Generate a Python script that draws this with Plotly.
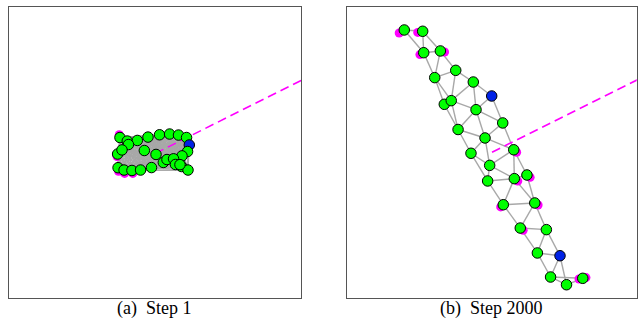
import numpy as np
import plotly.graph_objects as go

# ---------------- data (world units, panel spans 0..20) ----------------
# Step 1 node positions
s1_x = [7.60, 8.10, 8.79, 9.52, 10.31, 11.00, 11.61, 12.16, 12.35,
        12.23, 11.85, 8.18, 7.44, 9.27, 10.07, 10.57, 10.82, 11.27,
        11.40, 11.82, 12.26, 7.47, 7.88, 8.42, 9.01, 9.76, 7.74, 11.71]
s1_y = [11.01, 10.77, 10.81, 11.04, 11.20, 11.25, 11.18, 11.01, 10.50,
        10.05, 9.75, 10.53, 9.88, 10.12, 9.85, 9.30, 9.50, 9.55,
        9.16, 9.02, 8.78, 8.94, 8.78, 8.75, 8.78, 8.95, 10.16, 9.15]
s1_kind = ["g"] * 8 + ["b"] + ["g"] * 19

# Step 2000 node positions
s2_x = [3.97, 5.24, 5.31, 6.46, 7.52, 6.07, 8.73, 10.00, 6.73, 7.21,
        8.92, 10.76, 7.68, 9.54, 8.57, 11.52, 9.86, 9.72, 11.56, 12.43,
        10.80, 12.97, 11.97, 13.77, 13.15, 14.71, 14.06, 15.16, 16.28]
s2_y = [18.39, 18.30, 16.83, 16.95, 15.62, 15.12, 14.82, 13.86, 13.29, 13.54,
        12.92, 12.01, 11.56, 10.98, 9.93, 10.17, 9.10, 8.03, 8.19, 8.44,
        6.40, 6.52, 4.80, 4.69, 3.09, 2.90, 1.44, 0.91, 1.35]
s2_kind = ["g"] * 7 + ["b"] + ["g"] * 17 + ["b"] + ["g"] * 3

# Step 2000 communication edges (node index pairs)
s2_edges = [(0, 1), (0, 2), (1, 2), (1, 3), (2, 3), (2, 5), (3, 5), (3, 4),
            (5, 4), (4, 6), (4, 9), (5, 9), (5, 8), (6, 9), (6, 10), (6, 7),
            (7, 10), (7, 11), (9, 10), (8, 9), (8, 12), (9, 12), (10, 12),
            (10, 13), (10, 11), (11, 13), (12, 13), (12, 14), (13, 14),
            (13, 15), (11, 15), (13, 16), (14, 16), (15, 16), (15, 18),
            (15, 19), (16, 18), (16, 17), (14, 17), (17, 18), (17, 20),
            (18, 20), (18, 21), (19, 21), (18, 19), (20, 21), (20, 22),
            (21, 22), (21, 23), (22, 23), (22, 24), (23, 24), (23, 25),
            (24, 25), (24, 26), (25, 26), (25, 27), (26, 27), (27, 28),
            (26, 28)]

# Step 1 communication range (world units)
s1_range = 4.2

# earlier positions (trail marks) : x, y
s1_trail_x = [7.55, 7.40, 7.50, 7.92, 8.48, 8.12]
s1_trail_y = [11.20, 9.70, 8.70, 8.55, 8.55, 10.60]
s2_trail_x = [3.62, 4.90, 5.05, 6.75, 11.72, 11.80, 12.65, 10.62, 13.20, 12.17, 16.50, 16.02]
s2_trail_y = [18.18, 18.22, 16.70, 16.88, 10.00, 8.02, 8.28, 6.25, 6.38, 4.65, 1.40, 1.30]

# goal point (outside the view)
goal_x = [24.37, 24.37]
goal_y = [17.11, 17.11]

captions = ["(a)\u00a0 Step 1", "(b)\u00a0 Step 2000"]

# ---------------- figure ----------------
W, H = 641, 322
fig = go.Figure()

GREEN = "#00ff00"
BLUE = "#0022e6"
EDGE = "#a8a8a8"
MAG = "#ff00ff"


def add_panel(xs, ys, kinds, edges, tr_x, tr_y, gx, gy, xa, ya, ew):
    xs = np.asarray(xs)
    ys = np.asarray(ys)
    ex, ey = [], []
    for i, j in edges:
        ex += [xs[i], xs[j], None]
        ey += [ys[i], ys[j], None]
    fig.add_trace(go.Scatter(x=ex, y=ey, mode="lines",
                             line=dict(color=EDGE, width=ew),
                             hoverinfo="skip", showlegend=False,
                             xaxis=xa, yaxis=ya))
    fig.add_trace(go.Scatter(x=tr_x, y=tr_y, mode="markers",
                             marker=dict(size=9, color=MAG, line=dict(width=0)),
                             hoverinfo="skip", showlegend=False,
                             xaxis=xa, yaxis=ya))
    cx, cy = xs.mean(), ys.mean()
    fig.add_trace(go.Scatter(x=[cx, gx], y=[cy, gy], mode="lines",
                             line=dict(color=MAG, width=1.6, dash="9px,5px"),
                             hoverinfo="skip", showlegend=False,
                             xaxis=xa, yaxis=ya))
    cols = [GREEN if k == "g" else BLUE for k in kinds]
    fig.add_trace(go.Scatter(x=xs, y=ys, mode="markers",
                             marker=dict(size=10.5, color=cols,
                                         line=dict(color="black", width=1)),
                             hoverinfo="skip", showlegend=False,
                             xaxis=xa, yaxis=ya))


# step-1 edges: all node pairs within the communication range
s1_edges = []
for i in range(len(s1_x)):
    for j in range(i + 1, len(s1_x)):
        if np.hypot(s1_x[i] - s1_x[j], s1_y[i] - s1_y[j]) <= s1_range:
            s1_edges.append((i, j))

add_panel(s1_x, s1_y, s1_kind, s1_edges, s1_trail_x, s1_trail_y,
          goal_x[0], goal_y[0], "x", "y", 1.2)
add_panel(s2_x, s2_y, s2_kind, s2_edges, s2_trail_x, s2_trail_y,
          goal_x[1], goal_y[1], "x2", "y2", 1.4)

ax_style = dict(range=[0, 20], showgrid=False, zeroline=False,
                showticklabels=False, ticks="", showline=True, mirror=True,
                linecolor="#555555", linewidth=1, fixedrange=True)

ybot = 1 - 298 / H
ytop = 1 - 6.5 / H
fig.update_layout(
    width=W, height=H,
    margin=dict(l=0, r=0, t=0, b=0),
    paper_bgcolor="white", plot_bgcolor="white",
    showlegend=False,
    xaxis=dict(domain=[9 / W, 301 / W], **ax_style),
    yaxis=dict(domain=[ybot, ytop], **ax_style),
    xaxis2=dict(domain=[346.7 / W, 636.7 / W], anchor="y2", **ax_style),
    yaxis2=dict(domain=[ybot, ytop], anchor="x2", **ax_style),
)

for cx, txt in zip([154 / W, 491 / W], captions):
    fig.add_annotation(x=cx, y=1 - 308 / H, xref="paper", yref="paper",
                       text=txt, showarrow=False, xanchor="center",
                       yanchor="middle",
                       font=dict(family="Liberation Serif", size=18,
                                 color="black"))

fig.write_html("out.html", config={"displayModeBar": False},
               post_script="document.body.style.margin='0';"
                           "document.body.style.overflow='hidden';")
